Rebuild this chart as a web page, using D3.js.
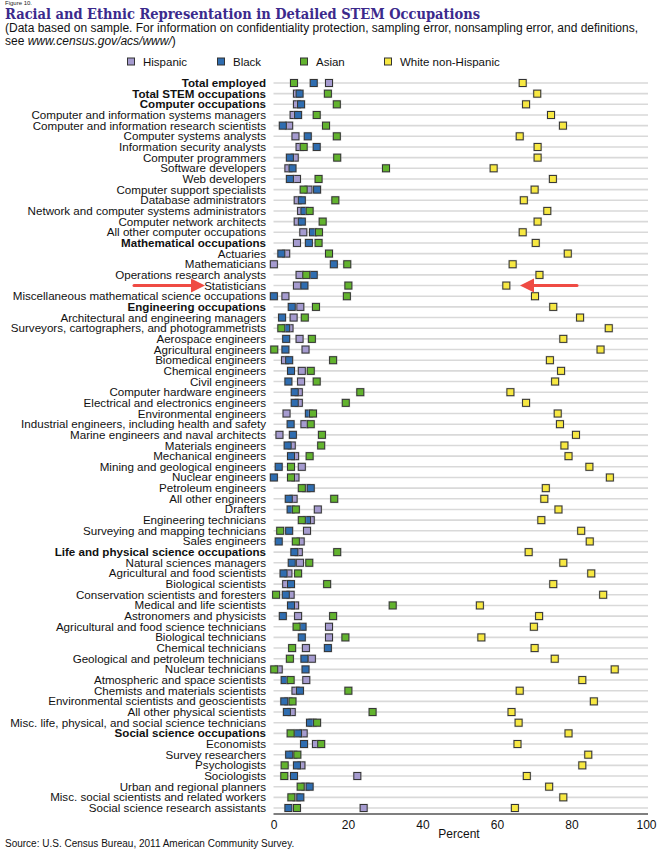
<!DOCTYPE html>
<html>
<head>
<meta charset="utf-8">
<script src="https://cdn.jsdelivr.net/npm/d3@7"></script>
<style>
body { margin: 0; background: #fff; }
text { font-family: "Liberation Sans", Arial, sans-serif; }
</style>
</head>
<body>
<svg id="chart" width="662" height="856"></svg>
<script>
// occupations, top to bottom
var occupations = [
  "Total employed", "Total STEM occupations", "Computer occupations",
  "Computer and information systems managers", "Computer and information research scientists",
  "Computer systems analysts", "Information security analysts", "Computer programmers",
  "Software developers", "Web developers", "Computer support specialists",
  "Database administrators", "Network and computer systems administrators",
  "Computer network architects", "All other computer occupations",
  "Mathematical occupations", "Actuaries", "Mathematicians", "Operations research analysts",
  "Statisticians", "Miscellaneous mathematical science occupations",
  "Engineering occupations", "Architectural and engineering managers",
  "Surveyors, cartographers, and photogrammetrists", "Aerospace engineers",
  "Agricultural engineers", "Biomedical engineers", "Chemical engineers", "Civil engineers",
  "Computer hardware engineers", "Electrical and electronics engineers",
  "Environmental engineers", "Industrial engineers, including health and safety",
  "Marine engineers and naval architects", "Materials engineers", "Mechanical engineers",
  "Mining and geological engineers", "Nuclear engineers", "Petroleum engineers",
  "All other engineers", "Drafters", "Engineering technicians",
  "Surveying and mapping technicians", "Sales engineers",
  "Life and physical science occupations", "Natural sciences managers",
  "Agricultural and food scientists", "Biological scientists",
  "Conservation scientists and foresters", "Medical and life scientists",
  "Astronomers and physicists", "Agricultural and food science technicians",
  "Biological technicians", "Chemical technicians", "Geological and petroleum technicians",
  "Nuclear technicians", "Atmospheric and space scientists",
  "Chemists and materials scientists", "Environmental scientists and geoscientists",
  "All other physical scientists", "Misc. life, physical, and social science technicians",
  "Social science occupations", "Economists", "Survey researchers", "Psychologists",
  "Sociologists", "Urban and regional planners", "Misc. social scientists and related workers",
  "Social science research assistants"
];

var boldRows = ["Total employed", "Total STEM occupations", "Computer occupations",
  "Mathematical occupations", "Engineering occupations",
  "Life and physical science occupations", "Social science occupations"];

var hispanic = [14.9, 6.3, 6.3, 5.4, 4.2, 5.9, 7.0, 5.7, 4.0, 6.3, 9.4, 6.5, 7.4, 6.5, 8.0,
  6.3, 3.4, 0.1, 7.0, 6.3, 3.2, 7.2, 5.4, 4.3, 7.0, 8.6, 3.1, 7.6, 7.4, 6.8, 6.8, 3.5, 8.3,
  1.6, 4.9, 5.8, 7.6, 5.9, 8.8, 5.4, 11.9, 10.0, 9.0, 7.3, 6.8, 7.1, 4.0, 3.4, 4.6, 5.8,
  6.6, 14.9, 14.9, 8.7, 10.3, 1.4, 8.8, 5.9, 4.0, 4.9, 10.5, 8.1, 11.4, 5.3, 7.5, 22.5,
  8.6, 6.2, 24.2];
var black = [10.8, 7.0, 7.4, 6.6, 2.5, 9.2, 11.6, 4.4, 5.1, 4.4, 11.7, 7.6, 8.3, 7.6, 10.6,
  9.5, 2.1, 16.2, 10.8, 8.3, 0.1, 4.9, 2.3, 3.4, 3.4, 3.2, 4.2, 4.7, 4.0, 5.7, 5.7, 9.5, 4.6,
  5.2, 3.8, 4.7, 1.4, 0.1, 10.0, 4.1, 4.6, 9.0, 4.2, 1.4, 5.6, 4.9, 2.7, 4.7, 3.3, 4.7,
  2.5, 7.8, 7.6, 14.6, 8.3, 8.6, 3.0, 7.1, 2.9, 3.6, 9.8, 6.6, 8.2, 4.2, 6.3, 5.5,
  9.7, 7.2, 4.0];
var asian = [5.5, 14.6, 17.0, 11.6, 14.1, 17.0, 8.1, 17.1, 30.2, 12.1, 8.1, 16.6, 9.7, 13.2, 12.2,
  12.1, 14.9, 19.8, 8.8, 20.1, 19.7, 11.4, 8.4, 2.1, 10.3, 0.2, 16.0, 10.0, 11.6, 23.3, 19.4,
  10.6, 10.0, 13.0, 12.8, 9.7, 4.7, 4.7, 7.6, 16.3, 6.0, 7.6, 1.8, 6.0, 17.1, 9.6, 6.6, 14.4,
  0.7, 32.0, 16.0, 6.2, 19.3, 5.0, 4.4, 0.2, 4.6, 20.1, 5.1, 26.6, 11.7, 4.6, 12.8, 6.4, 3.0,
  2.9, 7.3, 4.8, 6.3];
var white = [66.9, 70.8, 67.8, 74.5, 77.7, 66.1, 70.9, 70.9, 59.1, 75.0, 70.1, 67.2, 73.5, 70.9,
  66.9, 70.4, 79.0, 64.2, 71.4, 62.5, 70.2, 75.1, 82.3, 90.0, 77.8, 87.8, 74.2, 77.2, 75.6,
  63.6, 67.8, 76.3, 76.9, 81.2, 78.1, 79.2, 84.8, 90.3, 73.1, 72.7, 76.5, 71.9, 82.6, 84.9,
  68.5, 77.8, 85.3, 75.1, 88.5, 55.4, 71.3, 69.9, 55.8, 70.1, 75.5, 91.6, 82.9, 66.1, 86.0,
  63.9, 65.8, 79.2, 65.5, 84.5, 82.9, 68.0, 74.0, 77.8, 64.8];

var groups = ["Hispanic", "Black", "Asian", "White non-Hispanic"];
var groupValues = [hispanic, black, asian, white];
var groupColors = ["#a59bcf", "#2f6db0", "#62b32e", "#f7e842"];

var xTicks = [0, 20, 40, 60, 80, 100];

var svg = d3.select("#chart");

var x = d3.scaleLinear().domain([0, 100]).range([273.5, 646]);
var y = d3.scalePoint().domain(occupations).range([83, 808]);

// header
svg.append("text").attr("x", 5).attr("y", 5)
  .style("font-size", "6px").style("fill", "#222").text("Figure 10.");
svg.append("text").attr("x", 5).attr("y", 18.5)
  .style("font-family", "'DejaVu Serif Condensed', 'DejaVu Serif', serif").style("font-weight", "bold")
  .style("font-size", "14.5px").style("fill", "#3b2a8c")
  .text("Racial and Ethnic Representation in Detailed STEM Occupations");
svg.append("text").attr("x", 5).attr("y", 31.5)
  .style("font-size", "12px").style("fill", "#111")
  .text("(Data based on sample. For information on confidentiality protection, sampling error, nonsampling error, and definitions,");
var sub2 = svg.append("text").attr("x", 5).attr("y", 45)
  .style("font-size", "12px").style("fill", "#111");
sub2.append("tspan").text("see ");
sub2.append("tspan").style("font-style", "italic").text("www.census.gov/acs/www/");
sub2.append("tspan").text(")");

// legend
var legendX = [131, 221, 304, 388];
var legend = svg.append("g").attr("class", "legend");
groups.forEach(function(g, i) {
  legend.append("rect")
    .attr("x", legendX[i] - 3.5).attr("y", 58)
    .attr("width", 7).attr("height", 7)
    .attr("fill", groupColors[i]).attr("stroke", "#333").attr("stroke-width", 1);
  legend.append("text")
    .attr("x", legendX[i] + 12).attr("y", 65.5)
    .style("font-size", "11.5px").style("fill", "#111")
    .text(g);
});

// row gridlines
svg.append("g").attr("class", "grid")
  .selectAll("line")
  .data(occupations)
  .enter()
  .append("line")
  .attr("x1", x(0)).attr("x2", x(100) + 2)
  .attr("y1", function(d) { return y(d); })
  .attr("y2", function(d) { return y(d); })
  .attr("stroke", "#d9d9d9").attr("stroke-width", 1.6);

// row labels
svg.append("g").attr("class", "labels")
  .selectAll("text")
  .data(occupations)
  .enter()
  .append("text")
  .attr("x", 266)
  .attr("y", function(d) { return y(d) + 4; })
  .attr("text-anchor", "end")
  .style("font-size", "11.6px")
  .style("font-weight", function(d) { return boldRows.indexOf(d) >= 0 ? "bold" : "normal"; })
  .style("fill", "#111")
  .text(function(d) { return d; });

// x axis
var xAxis = d3.axisBottom(x).tickValues(xTicks).tickSize(0).tickPadding(6);
var axisG = svg.append("g").attr("transform", "translate(0,814)").call(xAxis);
axisG.select(".domain").attr("stroke", "#555").attr("stroke-width", 1.5)
  .attr("d", "M" + x(0) + ",0H" + (x(100) + 2));
axisG.selectAll("text").style("font-size", "12px").style("fill", "#111")
  .style("font-family", "'Liberation Sans', Arial, sans-serif");

svg.append("text").attr("x", 459).attr("y", 838)
  .attr("text-anchor", "middle").style("font-size", "12px").style("fill", "#111")
  .text("Percent");

// markers, one layer per group
groupValues.forEach(function(vals, gi) {
  var layer = svg.append("g").attr("class", "dots g" + gi);
  layer.selectAll("rect.halo")
    .data(vals)
    .enter()
    .append("rect")
    .attr("x", function(d) { return x(d) - 4.5; })
    .attr("y", function(d, i) { return y(occupations[i]) - 4.5; })
    .attr("width", 9).attr("height", 9)
    .attr("fill", "#bbb").attr("opacity", 0.5);
  layer.selectAll("rect.mark")
    .data(vals)
    .enter()
    .append("rect")
    .attr("class", "mark")
    .attr("x", function(d) { return x(d) - 3.5; })
    .attr("y", function(d, i) { return y(occupations[i]) - 3.5; })
    .attr("width", 7).attr("height", 7)
    .attr("fill", groupColors[gi])
    .attr("stroke", "#333").attr("stroke-width", 1);
});

// red arrows pointing at Statisticians
var statY = y("Statisticians");
function arrow(x1, x2) {
  var dir = x2 > x1 ? 1 : -1;
  var head = 14;
  svg.append("line")
    .attr("x1", x1).attr("y1", statY).attr("x2", x2 - dir * head).attr("y2", statY)
    .attr("stroke", "#ef4b44").attr("stroke-width", 3).attr("stroke-linecap", "round");
  svg.append("path")
    .attr("d", "M" + x2 + "," + statY + "L" + (x2 - dir * head) + "," + (statY - 7) +
      "L" + (x2 - dir * head) + "," + (statY + 7) + "Z")
    .attr("fill", "#ef4b44");
}
arrow(134, 205);
arrow(577, 520);

// source
svg.append("text").attr("x", 5).attr("y", 847)
  .style("font-size", "10px").style("fill", "#111")
  .text("Source: U.S. Census Bureau, 2011 American Community Survey.");
</script>
</body>
</html>
